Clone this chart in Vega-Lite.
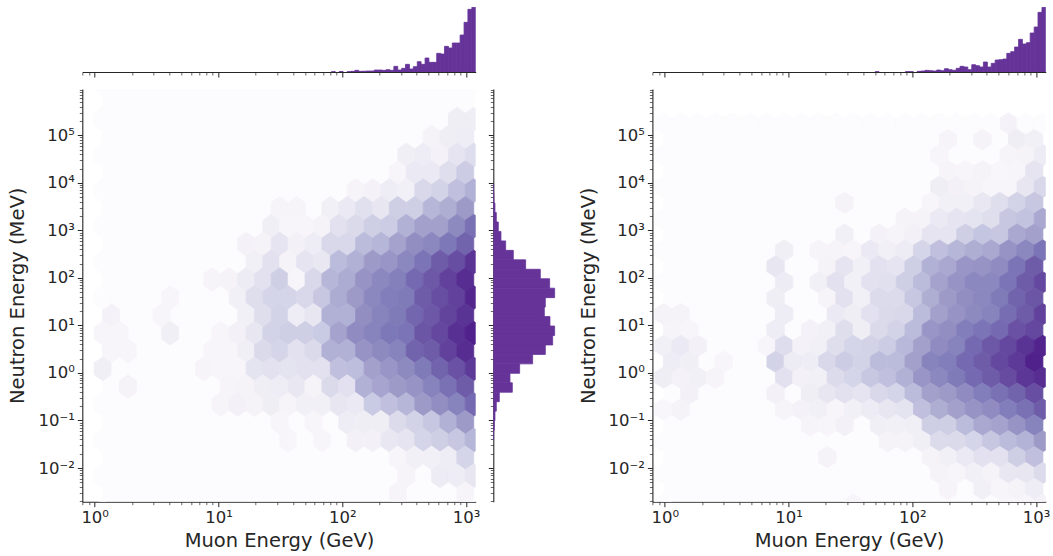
{"$schema":"https://vega.github.io/schema/vega-lite/v6.json","background":"white","padding":{"left":7.3,"top":7,"right":0,"bottom":6},"spacing":19.1,
"config":{"view":{"stroke":null},"font":"DejaVu Sans","axis":{"domainColor":"#262626","domainWidth":1.1,"tickColor":"#262626","labelColor":"#262626","titleColor":"#262626","labelFont":"DejaVu Sans","titleFont":"DejaVu Sans","labelFontSize":16.5,"titleFontSize":19.5,"titleFontWeight":"normal","grid":false,"labelPadding":3}},
"datasets":{
"L":[
{"x":2.926,"y":5.337,"v":0.12},{"x":3.062,"y":5.337,"v":0.12},
{"x":2.722,"y":4.962,"v":0.07},{"x":2.858,"y":4.962,"v":0.12},{"x":2.994,"y":4.962,"v":0.13},
{"x":2.517,"y":4.587,"v":0.11},{"x":2.654,"y":4.587,"v":0.13},{"x":2.79,"y":4.587,"v":0.08},{"x":2.926,"y":4.587,"v":0.18},{"x":3.062,"y":4.587,"v":0.23},
{"x":2.449,"y":4.212,"v":0.05},{"x":2.585,"y":4.212,"v":0.15},{"x":2.722,"y":4.212,"v":0.15},{"x":2.858,"y":4.212,"v":0.22},{"x":2.994,"y":4.212,"v":0.31},
{"x":2.108,"y":3.837,"v":0.06},{"x":2.245,"y":3.837,"v":0.08},{"x":2.381,"y":3.837,"v":0.13},{"x":2.517,"y":3.837,"v":0.1},{"x":2.654,"y":3.837,"v":0.26},{"x":2.79,"y":3.837,"v":0.28},{"x":2.926,"y":3.837,"v":0.36},{"x":3.062,"y":3.837,"v":0.42},
{"x":1.495,"y":3.462,"v":0.06},{"x":1.631,"y":3.462,"v":0.06},{"x":1.904,"y":3.462,"v":0.1},{"x":2.04,"y":3.462,"v":0.15},{"x":2.176,"y":3.462,"v":0.21},{"x":2.313,"y":3.462,"v":0.17},{"x":2.449,"y":3.462,"v":0.3},{"x":2.585,"y":3.462,"v":0.3},{"x":2.722,"y":3.462,"v":0.4},{"x":2.858,"y":3.462,"v":0.43},{"x":2.994,"y":3.462,"v":0.5},
{"x":1.427,"y":3.087,"v":0.11},{"x":1.563,"y":3.087,"v":0.05},{"x":1.7,"y":3.087,"v":0.05},{"x":1.836,"y":3.087,"v":0.07},{"x":1.972,"y":3.087,"v":0.2},{"x":2.108,"y":3.087,"v":0.25},{"x":2.245,"y":3.087,"v":0.3},{"x":2.381,"y":3.087,"v":0.31},{"x":2.517,"y":3.087,"v":0.42},{"x":2.654,"y":3.087,"v":0.48},{"x":2.79,"y":3.087,"v":0.48},{"x":2.926,"y":3.087,"v":0.57},{"x":3.062,"y":3.087,"v":0.66},
{"x":1.223,"y":2.712,"v":0.08},{"x":1.359,"y":2.712,"v":0.07},{"x":1.495,"y":2.712,"v":0.18},{"x":1.631,"y":2.712,"v":0.09},{"x":1.768,"y":2.712,"v":0.13},{"x":1.904,"y":2.712,"v":0.26},{"x":2.04,"y":2.712,"v":0.26},{"x":2.176,"y":2.712,"v":0.38},{"x":2.313,"y":2.712,"v":0.4},{"x":2.449,"y":2.712,"v":0.47},{"x":2.585,"y":2.712,"v":0.55},{"x":2.722,"y":2.712,"v":0.58},{"x":2.858,"y":2.712,"v":0.64},{"x":2.994,"y":2.712,"v":0.7},
{"x":1.291,"y":2.337,"v":0.1},{"x":1.427,"y":2.337,"v":0.2},{"x":1.563,"y":2.337,"v":0.07},{"x":1.7,"y":2.337,"v":0.18},{"x":1.836,"y":2.337,"v":0.16},{"x":1.972,"y":2.337,"v":0.38},{"x":2.108,"y":2.337,"v":0.42},{"x":2.245,"y":2.337,"v":0.5},{"x":2.381,"y":2.337,"v":0.52},{"x":2.517,"y":2.337,"v":0.58},{"x":2.654,"y":2.337,"v":0.65},{"x":2.79,"y":2.337,"v":0.72},{"x":2.926,"y":2.337,"v":0.76},{"x":3.062,"y":2.337,"v":0.84},
{"x":0.95,"y":1.962,"v":0.06},{"x":1.086,"y":1.962,"v":0.07},{"x":1.223,"y":1.962,"v":0.14},{"x":1.359,"y":1.962,"v":0.2},{"x":1.495,"y":1.962,"v":0.3},{"x":1.631,"y":1.962,"v":0.05},{"x":1.768,"y":1.962,"v":0.26},{"x":1.904,"y":1.962,"v":0.4},{"x":2.04,"y":1.962,"v":0.44},{"x":2.176,"y":1.962,"v":0.53},{"x":2.313,"y":1.962,"v":0.58},{"x":2.449,"y":1.962,"v":0.61},{"x":2.585,"y":1.962,"v":0.68},{"x":2.722,"y":1.962,"v":0.73},{"x":2.858,"y":1.962,"v":0.8},{"x":2.994,"y":1.962,"v":0.86},
{"x":0.61,"y":1.587,"v":0.05},{"x":1.155,"y":1.587,"v":0.1},{"x":1.291,"y":1.587,"v":0.22},{"x":1.427,"y":1.587,"v":0.27},{"x":1.563,"y":1.587,"v":0.27},{"x":1.7,"y":1.587,"v":0.26},{"x":1.836,"y":1.587,"v":0.33},{"x":1.972,"y":1.587,"v":0.44},{"x":2.108,"y":1.587,"v":0.5},{"x":2.245,"y":1.587,"v":0.58},{"x":2.381,"y":1.587,"v":0.62},{"x":2.517,"y":1.587,"v":0.63},{"x":2.654,"y":1.587,"v":0.72},{"x":2.79,"y":1.587,"v":0.76},{"x":2.926,"y":1.587,"v":0.8},{"x":3.062,"y":1.587,"v":0.88},
{"x":0.132,"y":1.212,"v":0.08},{"x":0.541,"y":1.212,"v":0.05},{"x":1.223,"y":1.212,"v":0.1},{"x":1.359,"y":1.212,"v":0.22},{"x":1.495,"y":1.212,"v":0.28},{"x":1.631,"y":1.212,"v":0.13},{"x":1.768,"y":1.212,"v":0.17},{"x":1.904,"y":1.212,"v":0.42},{"x":2.04,"y":1.212,"v":0.42},{"x":2.176,"y":1.212,"v":0.55},{"x":2.313,"y":1.212,"v":0.6},{"x":2.449,"y":1.212,"v":0.63},{"x":2.585,"y":1.212,"v":0.69},{"x":2.722,"y":1.212,"v":0.73},{"x":2.858,"y":1.212,"v":0.79},{"x":2.994,"y":1.212,"v":0.84},
{"x":0.064,"y":0.837,"v":0.05},{"x":0.201,"y":0.837,"v":0.05},{"x":0.61,"y":0.837,"v":0.11},{"x":1.018,"y":0.837,"v":0.05},{"x":1.155,"y":0.837,"v":0.09},{"x":1.291,"y":0.837,"v":0.17},{"x":1.427,"y":0.837,"v":0.28},{"x":1.563,"y":0.837,"v":0.3},{"x":1.7,"y":0.837,"v":0.3},{"x":1.836,"y":0.837,"v":0.32},{"x":1.972,"y":0.837,"v":0.47},{"x":2.108,"y":0.837,"v":0.56},{"x":2.245,"y":0.837,"v":0.6},{"x":2.381,"y":0.837,"v":0.64},{"x":2.517,"y":0.837,"v":0.65},{"x":2.654,"y":0.837,"v":0.74},{"x":2.79,"y":0.837,"v":0.78},{"x":2.926,"y":0.837,"v":0.85},{"x":3.062,"y":0.837,"v":0.9},
{"x":0.132,"y":0.462,"v":0.05},{"x":0.269,"y":0.462,"v":0.05},{"x":0.95,"y":0.462,"v":0.05},{"x":1.086,"y":0.462,"v":0.05},{"x":1.223,"y":0.462,"v":0.11},{"x":1.359,"y":0.462,"v":0.25},{"x":1.495,"y":0.462,"v":0.27},{"x":1.631,"y":0.462,"v":0.2},{"x":1.768,"y":0.462,"v":0.25},{"x":1.904,"y":0.462,"v":0.42},{"x":2.04,"y":0.462,"v":0.42},{"x":2.176,"y":0.462,"v":0.53},{"x":2.313,"y":0.462,"v":0.57},{"x":2.449,"y":0.462,"v":0.6},{"x":2.585,"y":0.462,"v":0.7},{"x":2.722,"y":0.462,"v":0.72},{"x":2.858,"y":0.462,"v":0.8},{"x":2.994,"y":0.462,"v":0.86},
{"x":0.064,"y":0.087,"v":0.11},{"x":0.882,"y":0.087,"v":0.06},{"x":1.018,"y":0.087,"v":0.05},{"x":1.155,"y":0.087,"v":0.05},{"x":1.291,"y":0.087,"v":0.19},{"x":1.427,"y":0.087,"v":0.2},{"x":1.563,"y":0.087,"v":0.19},{"x":1.7,"y":0.087,"v":0.2},{"x":1.836,"y":0.087,"v":0.2},{"x":1.972,"y":0.087,"v":0.36},{"x":2.108,"y":0.087,"v":0.37},{"x":2.245,"y":0.087,"v":0.48},{"x":2.381,"y":0.087,"v":0.52},{"x":2.517,"y":0.087,"v":0.57},{"x":2.654,"y":0.087,"v":0.63},{"x":2.79,"y":0.087,"v":0.7},{"x":2.926,"y":0.087,"v":0.75},{"x":3.062,"y":0.087,"v":0.82},
{"x":0.269,"y":-0.288,"v":0.07},{"x":1.086,"y":-0.288,"v":0.06},{"x":1.223,"y":-0.288,"v":0.07},{"x":1.359,"y":-0.288,"v":0.12},{"x":1.495,"y":-0.288,"v":0.13},{"x":1.631,"y":-0.288,"v":0.16},{"x":1.768,"y":-0.288,"v":0.07},{"x":1.904,"y":-0.288,"v":0.25},{"x":2.04,"y":-0.288,"v":0.2},{"x":2.176,"y":-0.288,"v":0.42},{"x":2.313,"y":-0.288,"v":0.46},{"x":2.449,"y":-0.288,"v":0.5},{"x":2.585,"y":-0.288,"v":0.53},{"x":2.722,"y":-0.288,"v":0.6},{"x":2.858,"y":-0.288,"v":0.66},{"x":2.994,"y":-0.288,"v":0.72},
{"x":1.018,"y":-0.663,"v":0.06},{"x":1.155,"y":-0.663,"v":0.09},{"x":1.291,"y":-0.663,"v":0.07},{"x":1.427,"y":-0.663,"v":0.12},{"x":1.563,"y":-0.663,"v":0.06},{"x":1.7,"y":-0.663,"v":0.1},{"x":1.836,"y":-0.663,"v":0.1},{"x":1.972,"y":-0.663,"v":0.17},{"x":2.108,"y":-0.663,"v":0.15},{"x":2.245,"y":-0.663,"v":0.32},{"x":2.381,"y":-0.663,"v":0.36},{"x":2.517,"y":-0.663,"v":0.4},{"x":2.654,"y":-0.663,"v":0.5},{"x":2.79,"y":-0.663,"v":0.55},{"x":2.926,"y":-0.663,"v":0.6},{"x":3.062,"y":-0.663,"v":0.68},
{"x":1.495,"y":-1.038,"v":0.05},{"x":1.768,"y":-1.038,"v":0.05},{"x":2.04,"y":-1.038,"v":0.13},{"x":2.176,"y":-1.038,"v":0.12},{"x":2.313,"y":-1.038,"v":0.12},{"x":2.449,"y":-1.038,"v":0.24},{"x":2.585,"y":-1.038,"v":0.28},{"x":2.722,"y":-1.038,"v":0.33},{"x":2.858,"y":-1.038,"v":0.42},{"x":2.994,"y":-1.038,"v":0.5},
{"x":1.563,"y":-1.413,"v":0.05},{"x":1.836,"y":-1.413,"v":0.05},{"x":2.108,"y":-1.413,"v":0.09},{"x":2.245,"y":-1.413,"v":0.09},{"x":2.381,"y":-1.413,"v":0.16},{"x":2.517,"y":-1.413,"v":0.18},{"x":2.654,"y":-1.413,"v":0.27},{"x":2.79,"y":-1.413,"v":0.3},{"x":2.926,"y":-1.413,"v":0.33},{"x":3.062,"y":-1.413,"v":0.4},
{"x":2.449,"y":-1.788,"v":0.05},{"x":2.585,"y":-1.788,"v":0.1},{"x":2.722,"y":-1.788,"v":0.1},{"x":2.858,"y":-1.788,"v":0.13},{"x":2.994,"y":-1.788,"v":0.27},
{"x":2.517,"y":-2.163,"v":0.06},{"x":2.79,"y":-2.163,"v":0.14},{"x":2.926,"y":-2.163,"v":0.13},{"x":3.062,"y":-2.163,"v":0.17},
{"x":2.449,"y":-2.538,"v":0.06},{"x":2.994,"y":-2.538,"v":0.06},
{"x":0.064,"y":6.087,"v":0},{"x":0.064,"y":5.337,"v":0},{"x":0.064,"y":4.587,"v":0},{"x":0.064,"y":3.837,"v":0},{"x":0.064,"y":3.087,"v":0},{"x":0.064,"y":2.337,"v":0},{"x":0.064,"y":1.587,"v":0},{"x":0.064,"y":-0.663,"v":0},{"x":0.064,"y":-1.413,"v":0},{"x":0.064,"y":-2.163,"v":0},{"x":0.064,"y":-2.913,"v":0},{"x":3.062,"y":6.087,"v":0},{"x":3.062,"y":-2.913,"v":0}
],
"R":[
{"x":2.776,"y":5.252,"v":0.08},
{"x":2.288,"y":4.918,"v":0.06},{"x":2.567,"y":4.918,"v":0.07},{"x":2.846,"y":4.918,"v":0.12},{"x":2.985,"y":4.918,"v":0.1},
{"x":2.218,"y":4.583,"v":0.05},{"x":2.776,"y":4.583,"v":0.06},{"x":2.915,"y":4.583,"v":0.07},{"x":3.054,"y":4.583,"v":0.14},
{"x":2.288,"y":4.249,"v":0.06},{"x":2.428,"y":4.249,"v":0.05},{"x":2.567,"y":4.249,"v":0.07},{"x":2.706,"y":4.249,"v":0.04},{"x":2.846,"y":4.249,"v":0.05},{"x":2.985,"y":4.249,"v":0.18},
{"x":2.218,"y":3.914,"v":0.12},{"x":2.358,"y":3.914,"v":0.09},{"x":2.497,"y":3.914,"v":0.07},{"x":2.636,"y":3.914,"v":0.05},{"x":2.776,"y":3.914,"v":0.05},{"x":2.915,"y":3.914,"v":0.17},{"x":3.054,"y":3.914,"v":0.26},
{"x":1.452,"y":3.58,"v":0.07},{"x":2.149,"y":3.58,"v":0.05},{"x":2.288,"y":3.58,"v":0.1},{"x":2.428,"y":3.58,"v":0.1},{"x":2.567,"y":3.58,"v":0.16},{"x":2.706,"y":3.58,"v":0.22},{"x":2.846,"y":3.58,"v":0.28},{"x":2.985,"y":3.58,"v":0.33},
{"x":1.94,"y":3.246,"v":0.07},{"x":2.079,"y":3.246,"v":0.07},{"x":2.218,"y":3.246,"v":0.15},{"x":2.358,"y":3.246,"v":0.18},{"x":2.497,"y":3.246,"v":0.19},{"x":2.636,"y":3.246,"v":0.22},{"x":2.776,"y":3.246,"v":0.33},{"x":2.915,"y":3.246,"v":0.35},{"x":3.054,"y":3.246,"v":0.45},
{"x":1.452,"y":2.911,"v":0.1},{"x":1.731,"y":2.911,"v":0.08},{"x":1.87,"y":2.911,"v":0.06},{"x":2.01,"y":2.911,"v":0.09},{"x":2.149,"y":2.911,"v":0.18},{"x":2.288,"y":2.911,"v":0.18},{"x":2.428,"y":2.911,"v":0.3},{"x":2.567,"y":2.911,"v":0.34},{"x":2.706,"y":2.911,"v":0.33},{"x":2.846,"y":2.911,"v":0.45},{"x":2.985,"y":2.911,"v":0.48},
{"x":0.964,"y":2.577,"v":0.11},{"x":1.243,"y":2.577,"v":0.06},{"x":1.382,"y":2.577,"v":0.06},{"x":1.522,"y":2.577,"v":0.05},{"x":1.661,"y":2.577,"v":0.15},{"x":1.8,"y":2.577,"v":0.1},{"x":1.94,"y":2.577,"v":0.14},{"x":2.079,"y":2.577,"v":0.27},{"x":2.218,"y":2.577,"v":0.36},{"x":2.358,"y":2.577,"v":0.4},{"x":2.497,"y":2.577,"v":0.43},{"x":2.636,"y":2.577,"v":0.45},{"x":2.776,"y":2.577,"v":0.53},{"x":2.915,"y":2.577,"v":0.58},{"x":3.054,"y":2.577,"v":0.65},
{"x":0.895,"y":2.242,"v":0.17},{"x":1.313,"y":2.242,"v":0.07},{"x":1.452,"y":2.242,"v":0.18},{"x":1.592,"y":2.242,"v":0.1},{"x":1.731,"y":2.242,"v":0.2},{"x":1.87,"y":2.242,"v":0.18},{"x":2.01,"y":2.242,"v":0.3},{"x":2.149,"y":2.242,"v":0.42},{"x":2.288,"y":2.242,"v":0.45},{"x":2.428,"y":2.242,"v":0.52},{"x":2.567,"y":2.242,"v":0.53},{"x":2.706,"y":2.242,"v":0.56},{"x":2.846,"y":2.242,"v":0.65},{"x":2.985,"y":2.242,"v":0.72},
{"x":0.964,"y":1.908,"v":0.14},{"x":1.243,"y":1.908,"v":0.1},{"x":1.382,"y":1.908,"v":0.2},{"x":1.522,"y":1.908,"v":0.1},{"x":1.661,"y":1.908,"v":0.2},{"x":1.8,"y":1.908,"v":0.21},{"x":1.94,"y":1.908,"v":0.3},{"x":2.079,"y":1.908,"v":0.38},{"x":2.218,"y":1.908,"v":0.47},{"x":2.358,"y":1.908,"v":0.53},{"x":2.497,"y":1.908,"v":0.58},{"x":2.636,"y":1.908,"v":0.58},{"x":2.776,"y":1.908,"v":0.65},{"x":2.915,"y":1.908,"v":0.72},{"x":3.054,"y":1.908,"v":0.78},
{"x":0.895,"y":1.573,"v":0.12},{"x":1.313,"y":1.573,"v":0.06},{"x":1.452,"y":1.573,"v":0.2},{"x":1.592,"y":1.573,"v":0.1},{"x":1.731,"y":1.573,"v":0.24},{"x":1.87,"y":1.573,"v":0.24},{"x":2.01,"y":1.573,"v":0.33},{"x":2.149,"y":1.573,"v":0.43},{"x":2.288,"y":1.573,"v":0.5},{"x":2.428,"y":1.573,"v":0.55},{"x":2.567,"y":1.573,"v":0.58},{"x":2.706,"y":1.573,"v":0.63},{"x":2.846,"y":1.573,"v":0.7},{"x":2.985,"y":1.573,"v":0.74},
{"x":-0.011,"y":1.239,"v":0.07},{"x":0.128,"y":1.239,"v":0.07},{"x":0.964,"y":1.239,"v":0.13},{"x":1.382,"y":1.239,"v":0.15},{"x":1.522,"y":1.239,"v":0.12},{"x":1.661,"y":1.239,"v":0.2},{"x":1.8,"y":1.239,"v":0.25},{"x":1.94,"y":1.239,"v":0.26},{"x":2.079,"y":1.239,"v":0.38},{"x":2.218,"y":1.239,"v":0.48},{"x":2.358,"y":1.239,"v":0.53},{"x":2.497,"y":1.239,"v":0.57},{"x":2.636,"y":1.239,"v":0.6},{"x":2.776,"y":1.239,"v":0.67},{"x":2.915,"y":1.239,"v":0.72},{"x":3.054,"y":1.239,"v":0.8},
{"x":0.059,"y":0.905,"v":0.06},{"x":0.198,"y":0.905,"v":0.05},{"x":0.895,"y":0.905,"v":0.13},{"x":1.174,"y":0.905,"v":0.08},{"x":1.313,"y":0.905,"v":0.1},{"x":1.452,"y":0.905,"v":0.22},{"x":1.592,"y":0.905,"v":0.12},{"x":1.731,"y":0.905,"v":0.25},{"x":1.87,"y":0.905,"v":0.28},{"x":2.01,"y":0.905,"v":0.38},{"x":2.149,"y":0.905,"v":0.52},{"x":2.288,"y":0.905,"v":0.55},{"x":2.428,"y":0.905,"v":0.62},{"x":2.567,"y":0.905,"v":0.65},{"x":2.706,"y":0.905,"v":0.68},{"x":2.846,"y":0.905,"v":0.75},{"x":2.985,"y":0.905,"v":0.78},
{"x":-0.011,"y":0.57,"v":0.1},{"x":0.128,"y":0.57,"v":0.15},{"x":0.268,"y":0.57,"v":0.09},{"x":0.825,"y":0.57,"v":0.05},{"x":0.964,"y":0.57,"v":0.23},{"x":1.104,"y":0.57,"v":0.08},{"x":1.243,"y":0.57,"v":0.1},{"x":1.382,"y":0.57,"v":0.22},{"x":1.522,"y":0.57,"v":0.27},{"x":1.661,"y":0.57,"v":0.28},{"x":1.8,"y":0.57,"v":0.31},{"x":1.94,"y":0.57,"v":0.39},{"x":2.079,"y":0.57,"v":0.48},{"x":2.218,"y":0.57,"v":0.56},{"x":2.358,"y":0.57,"v":0.6},{"x":2.497,"y":0.57,"v":0.68},{"x":2.636,"y":0.57,"v":0.73},{"x":2.776,"y":0.57,"v":0.78},{"x":2.915,"y":0.57,"v":0.84},{"x":3.054,"y":0.57,"v":0.89},
{"x":0.059,"y":0.236,"v":0.13},{"x":0.198,"y":0.236,"v":0.11},{"x":0.477,"y":0.236,"v":0.05},{"x":0.895,"y":0.236,"v":0.28},{"x":1.034,"y":0.236,"v":0.14},{"x":1.174,"y":0.236,"v":0.13},{"x":1.313,"y":0.236,"v":0.26},{"x":1.452,"y":0.236,"v":0.31},{"x":1.592,"y":0.236,"v":0.28},{"x":1.731,"y":0.236,"v":0.38},{"x":1.87,"y":0.236,"v":0.38},{"x":2.01,"y":0.236,"v":0.48},{"x":2.149,"y":0.236,"v":0.6},{"x":2.288,"y":0.236,"v":0.62},{"x":2.428,"y":0.236,"v":0.68},{"x":2.567,"y":0.236,"v":0.72},{"x":2.706,"y":0.236,"v":0.78},{"x":2.846,"y":0.236,"v":0.82},{"x":2.985,"y":0.236,"v":0.9},
{"x":-0.011,"y":-0.099,"v":0.12},{"x":0.128,"y":-0.099,"v":0.08},{"x":0.268,"y":-0.099,"v":0.1},{"x":0.407,"y":-0.099,"v":0.06},{"x":0.964,"y":-0.099,"v":0.2},{"x":1.104,"y":-0.099,"v":0.09},{"x":1.243,"y":-0.099,"v":0.1},{"x":1.382,"y":-0.099,"v":0.24},{"x":1.522,"y":-0.099,"v":0.27},{"x":1.661,"y":-0.099,"v":0.33},{"x":1.8,"y":-0.099,"v":0.36},{"x":1.94,"y":-0.099,"v":0.42},{"x":2.079,"y":-0.099,"v":0.52},{"x":2.218,"y":-0.099,"v":0.58},{"x":2.358,"y":-0.099,"v":0.63},{"x":2.497,"y":-0.099,"v":0.68},{"x":2.636,"y":-0.099,"v":0.72},{"x":2.776,"y":-0.099,"v":0.77},{"x":2.915,"y":-0.099,"v":0.83},{"x":3.054,"y":-0.099,"v":0.86},
{"x":0.198,"y":-0.433,"v":0.09},{"x":0.895,"y":-0.433,"v":0.09},{"x":1.174,"y":-0.433,"v":0.12},{"x":1.313,"y":-0.433,"v":0.17},{"x":1.452,"y":-0.433,"v":0.2},{"x":1.592,"y":-0.433,"v":0.18},{"x":1.731,"y":-0.433,"v":0.26},{"x":1.87,"y":-0.433,"v":0.27},{"x":2.01,"y":-0.433,"v":0.38},{"x":2.149,"y":-0.433,"v":0.48},{"x":2.288,"y":-0.433,"v":0.5},{"x":2.428,"y":-0.433,"v":0.56},{"x":2.567,"y":-0.433,"v":0.62},{"x":2.706,"y":-0.433,"v":0.66},{"x":2.846,"y":-0.433,"v":0.7},{"x":2.985,"y":-0.433,"v":0.76},
{"x":-0.011,"y":-0.768,"v":0.04},{"x":0.128,"y":-0.768,"v":0.07},{"x":0.964,"y":-0.768,"v":0.06},{"x":1.104,"y":-0.768,"v":0.08},{"x":1.243,"y":-0.768,"v":0.1},{"x":1.382,"y":-0.768,"v":0.05},{"x":1.522,"y":-0.768,"v":0.1},{"x":1.661,"y":-0.768,"v":0.14},{"x":1.8,"y":-0.768,"v":0.17},{"x":1.94,"y":-0.768,"v":0.19},{"x":2.079,"y":-0.768,"v":0.36},{"x":2.218,"y":-0.768,"v":0.43},{"x":2.358,"y":-0.768,"v":0.48},{"x":2.497,"y":-0.768,"v":0.53},{"x":2.636,"y":-0.768,"v":0.56},{"x":2.776,"y":-0.768,"v":0.62},{"x":2.915,"y":-0.768,"v":0.66},{"x":3.054,"y":-0.768,"v":0.72},
{"x":1.174,"y":-1.102,"v":0.06},{"x":1.313,"y":-1.102,"v":0.05},{"x":1.452,"y":-1.102,"v":0.09},{"x":1.731,"y":-1.102,"v":0.11},{"x":1.87,"y":-1.102,"v":0.1},{"x":2.01,"y":-1.102,"v":0.11},{"x":2.149,"y":-1.102,"v":0.3},{"x":2.288,"y":-1.102,"v":0.3},{"x":2.428,"y":-1.102,"v":0.38},{"x":2.567,"y":-1.102,"v":0.45},{"x":2.706,"y":-1.102,"v":0.47},{"x":2.846,"y":-1.102,"v":0.53},{"x":2.985,"y":-1.102,"v":0.6},
{"x":1.8,"y":-1.437,"v":0.07},{"x":1.94,"y":-1.437,"v":0.07},{"x":2.079,"y":-1.437,"v":0.11},{"x":2.218,"y":-1.437,"v":0.24},{"x":2.358,"y":-1.437,"v":0.25},{"x":2.497,"y":-1.437,"v":0.27},{"x":2.636,"y":-1.437,"v":0.33},{"x":2.776,"y":-1.437,"v":0.38},{"x":2.915,"y":-1.437,"v":0.41},{"x":3.054,"y":-1.437,"v":0.5},
{"x":1.313,"y":-1.771,"v":0.07},{"x":2.149,"y":-1.771,"v":0.07},{"x":2.288,"y":-1.771,"v":0.1},{"x":2.428,"y":-1.771,"v":0.15},{"x":2.567,"y":-1.771,"v":0.2},{"x":2.706,"y":-1.771,"v":0.2},{"x":2.846,"y":-1.771,"v":0.3},{"x":2.985,"y":-1.771,"v":0.36},
{"x":2.218,"y":-2.105,"v":0.07},{"x":2.358,"y":-2.105,"v":0.05},{"x":2.497,"y":-2.105,"v":0.1},{"x":2.636,"y":-2.105,"v":0.07},{"x":2.776,"y":-2.105,"v":0.16},{"x":2.915,"y":-2.105,"v":0.17},{"x":3.054,"y":-2.105,"v":0.24},
{"x":2.288,"y":-2.44,"v":0.06},{"x":2.567,"y":-2.44,"v":0.1},{"x":2.706,"y":-2.44,"v":0.05},{"x":2.846,"y":-2.44,"v":0.07},{"x":2.985,"y":-2.44,"v":0.13},
{"x":1.522,"y":-2.774,"v":0.05},{"x":2.776,"y":-2.774,"v":0.05},{"x":2.915,"y":-2.774,"v":0.05},{"x":3.054,"y":-2.774,"v":0.08},
{"x":-0.011,"y":5.252,"v":0},{"x":0.128,"y":5.252,"v":0},{"x":0.268,"y":5.252,"v":0},{"x":0.407,"y":5.252,"v":0},{"x":0.546,"y":5.252,"v":0},{"x":0.686,"y":5.252,"v":0},{"x":0.825,"y":5.252,"v":0},{"x":0.964,"y":5.252,"v":0},{"x":1.104,"y":5.252,"v":0},{"x":1.243,"y":5.252,"v":0},{"x":1.382,"y":5.252,"v":0},{"x":1.522,"y":5.252,"v":0},{"x":1.661,"y":5.252,"v":0},{"x":1.8,"y":5.252,"v":0},{"x":1.94,"y":5.252,"v":0},{"x":2.079,"y":5.252,"v":0},{"x":2.218,"y":5.252,"v":0},{"x":2.358,"y":5.252,"v":0},{"x":2.497,"y":5.252,"v":0},{"x":2.636,"y":5.252,"v":0},{"x":2.915,"y":5.252,"v":0},{"x":3.054,"y":5.252,"v":0},
{"x":-0.011,"y":4.583,"v":0},{"x":-0.011,"y":3.914,"v":0},{"x":-0.011,"y":3.246,"v":0},{"x":-0.011,"y":2.577,"v":0},{"x":-0.011,"y":1.908,"v":0},{"x":-0.011,"y":-1.437,"v":0},{"x":-0.011,"y":-2.105,"v":0},{"x":-0.011,"y":-2.774,"v":0}
],
"HL":[
{"a":3.047,"b":3.078,"c":194},{"a":3.015,"b":3.047,"c":188},{"a":2.984,"b":3.015,"c":149},{"a":2.952,"b":2.984,"c":111},{"a":2.921,"b":2.952,"c":87},{"a":2.889,"b":2.921,"c":87},{"a":2.858,"b":2.889,"c":72},{"a":2.826,"b":2.858,"c":77},{"a":2.795,"b":2.826,"c":54},{"a":2.763,"b":2.795,"c":56},{"a":2.732,"b":2.763,"c":29},{"a":2.7,"b":2.732,"c":29},{"a":2.669,"b":2.7,"c":42},{"a":2.637,"b":2.669,"c":23},{"a":2.606,"b":2.637,"c":31},{"a":2.574,"b":2.606,"c":16},{"a":2.543,"b":2.574,"c":9},{"a":2.511,"b":2.543,"c":23},{"a":2.48,"b":2.511,"c":11},{"a":2.448,"b":2.48,"c":6},{"a":2.417,"b":2.448,"c":17},{"a":2.385,"b":2.417,"c":5},{"a":2.354,"b":2.385,"c":7},{"a":2.322,"b":2.354,"c":5},{"a":2.291,"b":2.322,"c":6},{"a":2.259,"b":2.291,"c":6},{"a":2.228,"b":2.259,"c":3},{"a":2.196,"b":2.228,"c":3},{"a":2.165,"b":2.196,"c":2.5},{"a":2.133,"b":2.165,"c":2},{"a":2.102,"b":2.133,"c":5},{"a":2.07,"b":2.102,"c":2},{"a":2.039,"b":2.07,"c":1},{"a":1.976,"b":2.007,"c":1.5},{"a":1.913,"b":1.944,"c":1}
],
"HR":[
{"a":3.047,"b":3.078,"c":194},{"a":3.015,"b":3.047,"c":179},{"a":2.984,"b":3.015,"c":135},{"a":2.952,"b":2.984,"c":117},{"a":2.921,"b":2.952,"c":88},{"a":2.889,"b":2.921,"c":84},{"a":2.858,"b":2.889,"c":98},{"a":2.826,"b":2.858,"c":75},{"a":2.795,"b":2.826,"c":61},{"a":2.763,"b":2.795,"c":56},{"a":2.732,"b":2.763,"c":39},{"a":2.7,"b":2.732,"c":37},{"a":2.669,"b":2.7,"c":36},{"a":2.637,"b":2.669,"c":26},{"a":2.606,"b":2.637,"c":15},{"a":2.574,"b":2.606,"c":30},{"a":2.543,"b":2.574,"c":15},{"a":2.511,"b":2.543,"c":19},{"a":2.48,"b":2.511,"c":22},{"a":2.448,"b":2.48,"c":7},{"a":2.417,"b":2.448,"c":15},{"a":2.385,"b":2.417,"c":17},{"a":2.354,"b":2.385,"c":11},{"a":2.322,"b":2.354,"c":5},{"a":2.291,"b":2.322,"c":7},{"a":2.259,"b":2.291,"c":10},{"a":2.228,"b":2.259,"c":4},{"a":2.196,"b":2.228,"c":6},{"a":2.165,"b":2.196,"c":3},{"a":2.133,"b":2.165,"c":4},{"a":2.102,"b":2.133,"c":5},{"a":2.07,"b":2.102,"c":3},{"a":2.039,"b":2.07,"c":2},{"a":1.976,"b":2.007,"c":1},{"a":1.944,"b":1.976,"c":1},{"a":1.7,"b":1.731,"c":1}
],
"S":[
{"a":3.773,"b":3.972,"c":1},{"a":3.574,"b":3.773,"c":2},{"a":3.375,"b":3.574,"c":5},{"a":3.176,"b":3.375,"c":9},{"a":2.977,"b":3.176,"c":15},{"a":2.778,"b":2.977,"c":23},{"a":2.579,"b":2.778,"c":37},{"a":2.38,"b":2.579,"c":60},{"a":2.181,"b":2.38,"c":97},{"a":1.982,"b":2.181,"c":141},{"a":1.783,"b":1.982,"c":169},{"a":1.584,"b":1.783,"c":184},{"a":1.385,"b":1.584,"c":156},{"a":1.186,"b":1.385,"c":153},{"a":0.987,"b":1.186,"c":170},{"a":0.788,"b":0.987,"c":184},{"a":0.589,"b":0.788,"c":178},{"a":0.39,"b":0.589,"c":156},{"a":0.191,"b":0.39,"c":118},{"a":-0.008,"b":0.191,"c":79},{"a":-0.207,"b":-0.008,"c":50},{"a":-0.406,"b":-0.207,"c":57},{"a":-0.605,"b":-0.406,"c":18},{"a":-0.804,"b":-0.605,"c":9},{"a":-1.003,"b":-0.804,"c":5},{"a":-1.202,"b":-1.003,"c":3},{"a":-1.401,"b":-1.202,"c":1}
]},
"hconcat":[
{"spacing":11,"vconcat":[
{"width":393.4,"height":65,"data":{"name":"HL"},"mark":{"type":"rect","color":"#663399","clip":true,"stroke":"#663399","strokeWidth":0.8},"encoding":{"x":{"field":"a","type":"quantitative","scale":{"domain":[-0.1,3.078],"nice":false,"zero":false},"axis":{"title":null,"labels":false,"tickSize":{"condition":{"test":"floor(datum.value)==datum.value","value":5},"value":3},"tickWidth":{"condition":{"test":"floor(datum.value)==datum.value","value":1},"value":0.7},"values":[-0.097,-0.046,0,0.301,0.477,0.602,0.699,0.778,0.845,0.903,0.954,1,1.301,1.477,1.602,1.699,1.778,1.845,1.903,1.954,2,2.301,2.477,2.602,2.699,2.778,2.845,2.903,2.954,3]}},"x2":{"field":"b"},"y":{"field":"c","type":"quantitative","scale":{"domain":[0,195],"nice":false},"axis":null},"y2":{"datum":0}}},
{"spacing":7,"hconcat":[
{"width":393.4,"height":412.7,"resolve":{"axis":{"x":"independent","y":"independent"}},"layer":[
{"data":{"values":[{"a":0.064,"b":3.062,"c":-2.709,"d":5.974,"v":0}]},"mark":{"type":"rect","clip":true},"encoding":{"x":{"field":"a","type":"quantitative","scale":{"domain":[-0.1,3.078],"nice":false,"zero":false},"axis":{"orient":"bottom","title":"Muon Energy (GeV)","titlePadding":5,"labelOverlap":false,"tickSize":5,"tickWidth":1,"values":[0,1,2,3],"labelExpr":"datum.value==0?'10⁰':datum.value==1?'10¹':datum.value==2?'10²':'10³'"}},"x2":{"field":"b"},"y":{"field":"c","type":"quantitative","scale":{"domain":[-2.709,5.974],"nice":false,"zero":false},"axis":{"orient":"left","title":"Neutron Energy (MeV)","titlePadding":10,"labelOverlap":false,"tickSize":5,"tickWidth":1,"values":[-2,-1,0,1,2,3,4,5],"labelExpr":"datum.value==0?'10⁰':datum.value==1?'10¹':datum.value==2?'10²':datum.value==3?'10³':datum.value==4?'10⁴':datum.value==5?'10⁵':datum.value==-1?'10⁻¹':'10⁻²'"}},"y2":{"field":"d"},"color":{"field":"v","type":"quantitative","scale":{"domain":[0,0.125,0.25,0.375,0.5,0.625,0.75,0.875,1],"range":["#fcfbfd","#efedf5","#dadaeb","#bcbddc","#9e9ac8","#807dba","#6a51a3","#54278f","#3f007d"]},"legend":null}}},
{"data":{"name":"L"},"mark":{"type":"point","shape":"M0,-1.41L1,-0.705L1,0.705L0,1.41L-1,0.705L-1,-0.705Z","size":284.6,"filled":true,"opacity":1,"clip":true,"strokeWidth":0.8},"encoding":{"x":{"field":"x","type":"quantitative","axis":{"orient":"bottom","title":null,"labels":false,"domain":false,"tickSize":3,"tickWidth":0.7,"values":[-0.097,-0.046,0.301,0.477,0.602,0.699,0.778,0.845,0.903,0.954,1.301,1.477,1.602,1.699,1.778,1.845,1.903,1.954,2.301,2.477,2.602,2.699,2.778,2.845,2.903,2.954]}},"y":{"field":"y","type":"quantitative","axis":{"orient":"left","title":null,"labels":false,"domain":false,"tickSize":3,"tickWidth":0.7,"values":[-2.699,-2.523,-2.398,-2.301,-2.222,-2.155,-2.097,-2.046,-1.699,-1.523,-1.398,-1.301,-1.222,-1.155,-1.097,-1.046,-0.699,-0.523,-0.398,-0.301,-0.222,-0.155,-0.097,-0.046,0.301,0.477,0.602,0.699,0.778,0.845,0.903,0.954,1.301,1.477,1.602,1.699,1.778,1.845,1.903,1.954,2.301,2.477,2.602,2.699,2.778,2.845,2.903,2.954,3.301,3.477,3.602,3.699,3.778,3.845,3.903,3.954,4.301,4.477,4.602,4.699,4.778,4.845,4.903,4.954,5.301,5.477,5.602,5.699,5.778,5.845,5.903,5.954]}},"color":{"field":"v","type":"quantitative","legend":null},"stroke":{"field":"v","type":"quantitative","scale":{"domain":[0,0.125,0.25,0.375,0.5,0.625,0.75,0.875,1],"range":["#fcfbfd","#efedf5","#dadaeb","#bcbddc","#9e9ac8","#807dba","#6a51a3","#54278f","#3f007d"]},"legend":null}}}
]},
{"width":65,"height":412.7,"data":{"name":"S"},"mark":{"type":"rect","color":"#663399","clip":true,"stroke":"#663399","strokeWidth":0.8},"encoding":{"y":{"field":"a","type":"quantitative","scale":{"domain":[-2.709,5.974],"nice":false,"zero":false},"axis":{"title":null,"labels":false,"tickSize":{"condition":{"test":"floor(datum.value)==datum.value","value":5},"value":3},"tickWidth":{"condition":{"test":"floor(datum.value)==datum.value","value":1},"value":0.7},"values":[-2.699,-2.523,-2.398,-2.301,-2.222,-2.155,-2.097,-2.046,-2,-1.699,-1.523,-1.398,-1.301,-1.222,-1.155,-1.097,-1.046,-1,-0.699,-0.523,-0.398,-0.301,-0.222,-0.155,-0.097,-0.046,0,0.301,0.477,0.602,0.699,0.778,0.845,0.903,0.954,1,1.301,1.477,1.602,1.699,1.778,1.845,1.903,1.954,2,2.301,2.477,2.602,2.699,2.778,2.845,2.903,2.954,3,3.301,3.477,3.602,3.699,3.778,3.845,3.903,3.954,4,4.301,4.477,4.602,4.699,4.778,4.845,4.903,4.954,5,5.301,5.477,5.602,5.699,5.778,5.845,5.903,5.954]}},"y2":{"field":"b"},"x":{"field":"c","type":"quantitative","scale":{"domain":[0,195],"nice":false},"axis":null},"x2":{"datum":0}}}
]}
]},
{"spacing":11,"vconcat":[
{"width":393.4,"height":65,"data":{"name":"HR"},"mark":{"type":"rect","color":"#663399","clip":true,"stroke":"#663399","strokeWidth":0.8},"encoding":{"x":{"field":"a","type":"quantitative","scale":{"domain":[-0.1,3.078],"nice":false,"zero":false},"axis":{"title":null,"labels":false,"tickSize":{"condition":{"test":"floor(datum.value)==datum.value","value":5},"value":3},"tickWidth":{"condition":{"test":"floor(datum.value)==datum.value","value":1},"value":0.7},"values":[-0.097,-0.046,0,0.301,0.477,0.602,0.699,0.778,0.845,0.903,0.954,1,1.301,1.477,1.602,1.699,1.778,1.845,1.903,1.954,2,2.301,2.477,2.602,2.699,2.778,2.845,2.903,2.954,3]}},"x2":{"field":"b"},"y":{"field":"c","type":"quantitative","scale":{"domain":[0,195],"nice":false},"axis":null},"y2":{"datum":0}}},
{"width":393.4,"height":412.7,"resolve":{"axis":{"x":"independent","y":"independent"}},"layer":[
{"data":{"values":[{"a":-0.011,"b":3.054,"c":-2.709,"d":5.364,"v":0}]},"mark":{"type":"rect","clip":true},"encoding":{"x":{"field":"a","type":"quantitative","scale":{"domain":[-0.1,3.078],"nice":false,"zero":false},"axis":{"orient":"bottom","title":"Muon Energy (GeV)","titlePadding":5,"labelOverlap":false,"tickSize":5,"tickWidth":1,"values":[0,1,2,3],"labelExpr":"datum.value==0?'10⁰':datum.value==1?'10¹':datum.value==2?'10²':'10³'"}},"x2":{"field":"b"},"y":{"field":"c","type":"quantitative","scale":{"domain":[-2.709,5.974],"nice":false,"zero":false},"axis":{"orient":"left","title":"Neutron Energy (MeV)","titlePadding":10,"labelOverlap":false,"tickSize":5,"tickWidth":1,"values":[-2,-1,0,1,2,3,4,5],"labelExpr":"datum.value==0?'10⁰':datum.value==1?'10¹':datum.value==2?'10²':datum.value==3?'10³':datum.value==4?'10⁴':datum.value==5?'10⁵':datum.value==-1?'10⁻¹':'10⁻²'"}},"y2":{"field":"d"},"color":{"field":"v","type":"quantitative","scale":{"domain":[0,0.125,0.25,0.375,0.5,0.625,0.75,0.875,1],"range":["#fcfbfd","#efedf5","#dadaeb","#bcbddc","#9e9ac8","#807dba","#6a51a3","#54278f","#3f007d"]},"legend":null}}},
{"data":{"name":"R"},"mark":{"type":"point","shape":"M0,-1.228L1,-0.614L1,0.614L0,1.228L-1,0.614L-1,-0.614Z","size":297.6,"filled":true,"opacity":1,"clip":true,"strokeWidth":0.8},"encoding":{"x":{"field":"x","type":"quantitative","axis":{"orient":"bottom","title":null,"labels":false,"domain":false,"tickSize":3,"tickWidth":0.7,"values":[-0.097,-0.046,0.301,0.477,0.602,0.699,0.778,0.845,0.903,0.954,1.301,1.477,1.602,1.699,1.778,1.845,1.903,1.954,2.301,2.477,2.602,2.699,2.778,2.845,2.903,2.954]}},"y":{"field":"y","type":"quantitative","axis":{"orient":"left","title":null,"labels":false,"domain":false,"tickSize":3,"tickWidth":0.7,"values":[-2.699,-2.523,-2.398,-2.301,-2.222,-2.155,-2.097,-2.046,-1.699,-1.523,-1.398,-1.301,-1.222,-1.155,-1.097,-1.046,-0.699,-0.523,-0.398,-0.301,-0.222,-0.155,-0.097,-0.046,0.301,0.477,0.602,0.699,0.778,0.845,0.903,0.954,1.301,1.477,1.602,1.699,1.778,1.845,1.903,1.954,2.301,2.477,2.602,2.699,2.778,2.845,2.903,2.954,3.301,3.477,3.602,3.699,3.778,3.845,3.903,3.954,4.301,4.477,4.602,4.699,4.778,4.845,4.903,4.954,5.301,5.477,5.602,5.699,5.778,5.845,5.903,5.954]}},"color":{"field":"v","type":"quantitative","legend":null},"stroke":{"field":"v","type":"quantitative","scale":{"domain":[0,0.125,0.25,0.375,0.5,0.625,0.75,0.875,1],"range":["#fcfbfd","#efedf5","#dadaeb","#bcbddc","#9e9ac8","#807dba","#6a51a3","#54278f","#3f007d"]},"legend":null}}}
]}
]}
]}
